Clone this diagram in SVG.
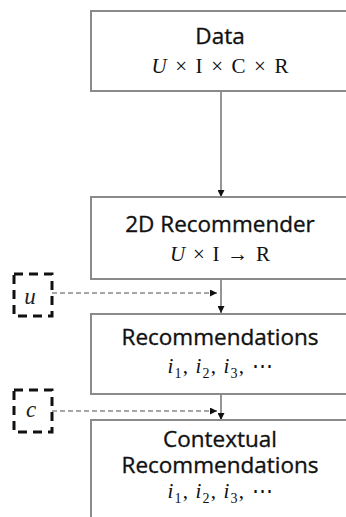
<svg xmlns="http://www.w3.org/2000/svg" width="346" height="517" viewBox="0 0 346 517">
  <defs>
    <marker id="arrow" viewBox="0 0 10 10" refX="10" refY="5" markerWidth="7" markerHeight="7" markerUnits="userSpaceOnUse" orient="auto">
      <path d="M0,0 L10,5 L0,10 Z" fill="#111"/>
    </marker>
    <style>
      .box { fill: #fff; stroke: #8a8a8a; stroke-width: 2; }
      .title { font-family: "Open Sans", "Noto Sans", sans-serif; font-size: 22.5px; fill: #111; stroke: #111; stroke-width: 0.35; text-anchor: middle; }
      .math { font-family: "Liberation Serif", "DejaVu Serif", serif; font-size: 21px; fill: #111; text-anchor: middle; }
      .it { font-style: italic; }
      .sub { font-size: 14px; }
      .flow { fill: none; stroke: #8a8a8a; stroke-width: 1.8; }
      .ctx { fill: none; stroke: #8a8a8a; stroke-width: 1.5; stroke-dasharray: 5 3; }
      .var { fill: none; stroke: #111; stroke-width: 3; stroke-dasharray: 9 6; }
      .vlabel { font-family: "Liberation Serif", "DejaVu Serif", serif; font-size: 23px; font-style: italic; fill: #222; text-anchor: middle; }
    </style>
  </defs>

  <!-- connectors -->
  <g id="connectors">
    <line class="flow" x1="221" y1="92" x2="221" y2="197" marker-end="url(#arrow)"/>
    <line class="flow" x1="221" y1="280" x2="221" y2="313" marker-end="url(#arrow)"/>
    <line class="flow" x1="221" y1="395" x2="221" y2="420" marker-end="url(#arrow)"/>
    <line class="ctx" x1="52" y1="293" x2="217" y2="293" marker-end="url(#arrow)"/>
    <line class="ctx" x1="52" y1="411" x2="217" y2="411" marker-end="url(#arrow)"/>
  </g>

  <!-- data -->
  <g id="data">
    <rect class="box" x="91" y="11" width="270" height="80"/>
    <text class="title" x="220" y="44">Data</text>
    <text class="math" x="220" y="73" textLength="137" lengthAdjust="spacing"><tspan class="it">U</tspan> × I × C × R</text>
  </g>

  <!-- 2d recommender -->
  <g id="recommender">
    <rect class="box" x="91" y="197" width="270" height="82"/>
    <text class="title" x="220" y="232">2D Recommender</text>
    <text class="math" x="220" y="261" textLength="100" lengthAdjust="spacing"><tspan class="it">U</tspan> × I → R</text>
  </g>

  <!-- user variable -->
  <g id="user">
    <rect class="var" x="14" y="274" width="38" height="42"/>
    <text class="vlabel" x="30" y="304">u</text>
  </g>

  <!-- recommendations -->
  <g id="recommendations">
    <rect class="box" x="91" y="314" width="270" height="80"/>
    <text class="title" x="220" y="345">Recommendations</text>
    <text class="math" x="220" y="373" textLength="105" lengthAdjust="spacing"><tspan class="it">i</tspan><tspan class="sub" dy="5">1</tspan><tspan dy="-5">, </tspan><tspan class="it">i</tspan><tspan class="sub" dy="5">2</tspan><tspan dy="-5">, </tspan><tspan class="it">i</tspan><tspan class="sub" dy="5">3</tspan><tspan dy="-5">, ⋯</tspan></text>
  </g>

  <!-- context variable -->
  <g id="context">
    <rect class="var" x="14" y="390" width="38" height="42"/>
    <text class="vlabel" x="31" y="417">c</text>
  </g>

  <!-- contextual recommendations -->
  <g id="contextual">
    <rect class="box" x="91" y="420" width="270" height="110"/>
    <text class="title" x="220" y="447">Contextual</text>
    <text class="title" x="220" y="473">Recommendations</text>
    <text class="math" x="220" y="498" textLength="105" lengthAdjust="spacing"><tspan class="it">i</tspan><tspan class="sub" dy="5">1</tspan><tspan dy="-5">, </tspan><tspan class="it">i</tspan><tspan class="sub" dy="5">2</tspan><tspan dy="-5">, </tspan><tspan class="it">i</tspan><tspan class="sub" dy="5">3</tspan><tspan dy="-5">, ⋯</tspan></text>
  </g>
</svg>
